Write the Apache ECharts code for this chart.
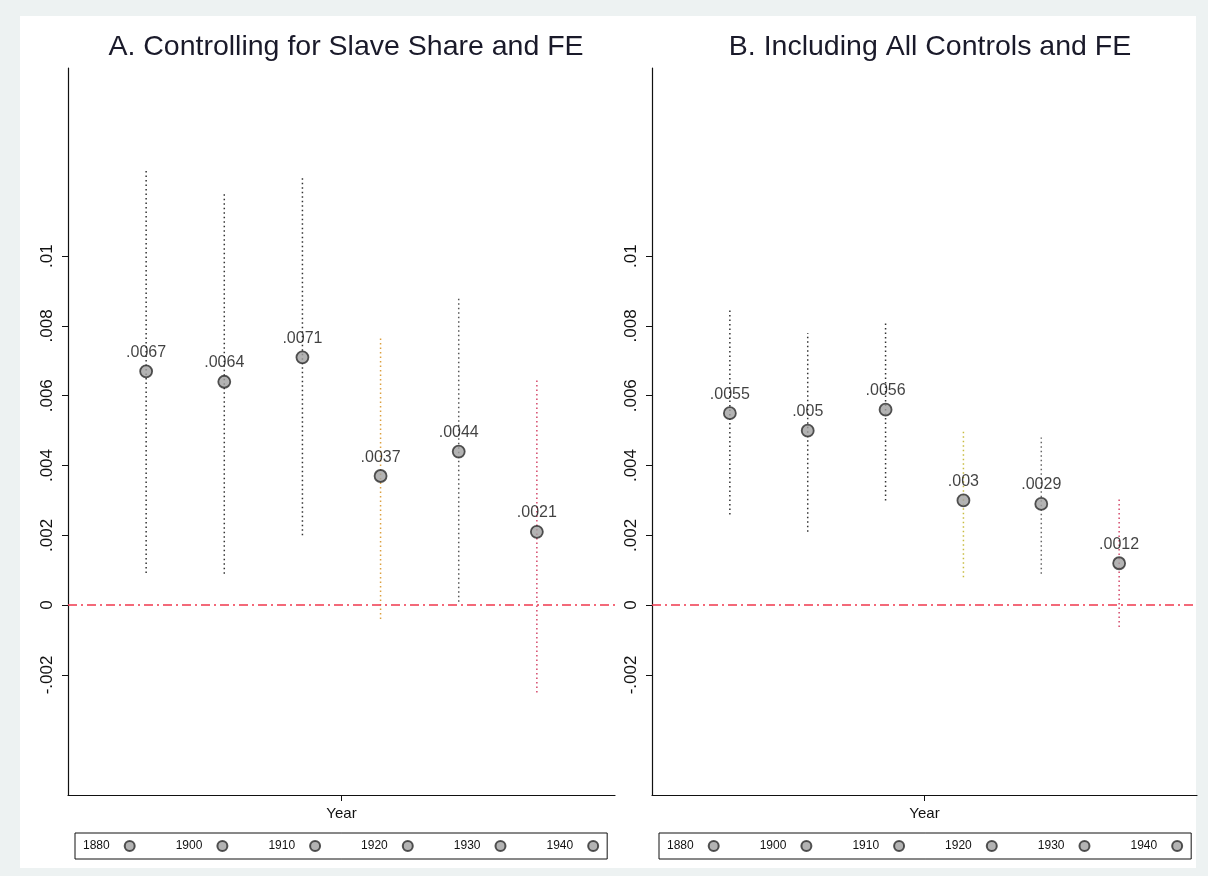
<!DOCTYPE html>
<html>
<head>
<meta charset="utf-8">
<script src="https://cdn.jsdelivr.net/npm/echarts@6/dist/echarts.min.js"></script>
<style>
  html, body { margin: 0; padding: 0; background: #edf2f2; }
  #chart { width: 1208px; height: 876px; }
</style>
</head>
<body>
<div id="chart"></div>
<script>
// census years, one marker each
var years = ['1880', '1900', '1910', '1920', '1930', '1940'];
var xPos = [1, 2, 3, 4, 5, 6];

// panel A: controlling for slave share and FE
var coefA = [0.0067, 0.0064, 0.0071, 0.0037, 0.0044, 0.0021];
var hiA = [0.01245, 0.0118, 0.0123, 0.0077, 0.00885, 0.0065];
var loA = [0.00092, 0.0009, 0.002, -0.0004, 0.0001, -0.0025];

// panel B: including all controls and FE
var coefB = [0.0055, 0.005, 0.0056, 0.003, 0.0029, 0.0012];
var hiB = [0.0085, 0.0078, 0.0081, 0.00505, 0.0048, 0.00305];
var loB = [0.0026, 0.0021, 0.003, 0.0008, 0.0009, -0.00063];

var yTicks = [-0.002, 0, 0.002, 0.004, 0.006, 0.008, 0.01];

var ciColorsA = ['#333', '#333', '#333', '#dca040', '#555', '#d4486a'];
var ciColorsB = ['#333', '#333', '#333', '#c8bc40', '#666', '#d4486a'];

var FONT = '"Liberation Sans", Arial, sans-serif';

function stataNum(v) {
  // Stata drops the leading zero: .0067, -.002
  return String(+v.toFixed(4)).replace(/^(-?)0\./, '$1.');
}

var chart = echarts.init(document.getElementById('chart'));

var grids = [
  { left: 68, top: 68, width: 547, height: 727 },
  { left: 652, top: 68, width: 545, height: 727 }
];

function xAxisFor(i) {
  return {
    gridIndex: i, type: 'value', min: 0, max: 7,
    name: 'Year', nameLocation: 'middle', nameGap: 11,
    nameTextStyle: { fontFamily: FONT, fontSize: 15, color: '#111' },
    axisLine: { onZero: false, lineStyle: { color: '#111', width: 1.2 } },
    axisTick: { customValues: [3.5], length: 6, lineStyle: { color: '#111' } },
    axisLabel: { show: false },
    splitLine: { show: false }
  };
}

function yAxisFor(i) {
  return {
    gridIndex: i, type: 'value', min: -0.00544, max: 0.01539,
    axisLine: { show: true, lineStyle: { color: '#111', width: 1.2 } },
    axisTick: { show: true, customValues: yTicks, length: 6, lineStyle: { color: '#111' } },
    axisLabel: {
      customValues: yTicks, rotate: 90, margin: 12,
      fontFamily: FONT, fontSize: 17, color: '#111',
      formatter: function (v) { return stataNum(v); }
    },
    splitLine: { show: false }
  };
}

var series = [];
function addPanel(idx, coef, lo, hi, colors) {
  years.forEach(function (y, k) {
    series.push({
      name: y + ' ci ' + idx, type: 'line', xAxisIndex: idx, yAxisIndex: idx,
      data: [[xPos[k], lo[k]], [xPos[k], hi[k]]],
      symbol: 'none', silent: true, z: 1,
      lineStyle: { color: colors[k], width: 1.5, type: [1.5, 3] }
    });
  });
  years.forEach(function (y, k) {
    series.push({
      name: y, type: 'scatter', xAxisIndex: idx, yAxisIndex: idx,
      data: [[xPos[k], coef[k]]],
      symbol: 'circle', symbolSize: 12, z: 3,
      itemStyle: { color: '#a0a0a0', borderColor: '#2a2a2a', borderWidth: 1.8 },
      label: {
        show: true, position: 'top', distance: 4,
        fontFamily: FONT, fontSize: 16, color: '#111',
        formatter: function (p) { return stataNum(p.value[1]); }
      }
    });
  });
  // zero reference line
  series.push({
    name: 'zero ' + idx, type: 'line', xAxisIndex: idx, yAxisIndex: idx,
    data: [], silent: true,
    markLine: {
      silent: true, symbol: 'none', label: { show: false },
      lineStyle: { color: '#f0384e', width: 1.5, type: [9, 4, 2, 4] },
      data: [{ yAxis: 0 }]
    }
  });
}
addPanel(0, coefA, loA, hiA, ciColorsA);
addPanel(1, coefB, loB, hiB, ciColorsB);

function legendFor(idx, left) {
  return {
    data: years, left: left, top: 833, orient: 'horizontal',
    align: 'right', icon: 'circle', itemWidth: 10, itemHeight: 10, itemGap: 40,
    padding: [7, 8, 7, 8], borderColor: '#111', borderWidth: 1,
    selectedMode: false,
    textStyle: { fontFamily: '"Liberation Sans Narrow", "Liberation Sans", sans-serif', fontSize: 12, color: '#111', padding: [0, 10, 0, 0] }
  };
}

chart.setOption({
  backgroundColor: '#edf2f2',
  animation: false,
  graphic: [
    { type: 'rect', left: 20, top: 16, shape: { width: 1176, height: 852 }, style: { fill: '#fff' }, z: -10 }
  ],
  title: [
    { text: 'A. Controlling for Slave Share and FE', left: 341, top: 28, textAlign: 'center',
      textStyle: { fontFamily: FONT, fontSize: 28.5, fontWeight: 'normal', color: '#1a1a2a' } },
    { text: 'B. Including All Controls and FE', left: 925, top: 28, textAlign: 'center',
      textStyle: { fontFamily: FONT, fontSize: 28.5, fontWeight: 'normal', color: '#1a1a2a' } }
  ],
  grid: grids,
  xAxis: [xAxisFor(0), xAxisFor(1)],
  yAxis: [yAxisFor(0), yAxisFor(1)],
  legend: [legendFor(0, 75), legendFor(1, 659)],
  series: series
});
</script>
</body>
</html>
